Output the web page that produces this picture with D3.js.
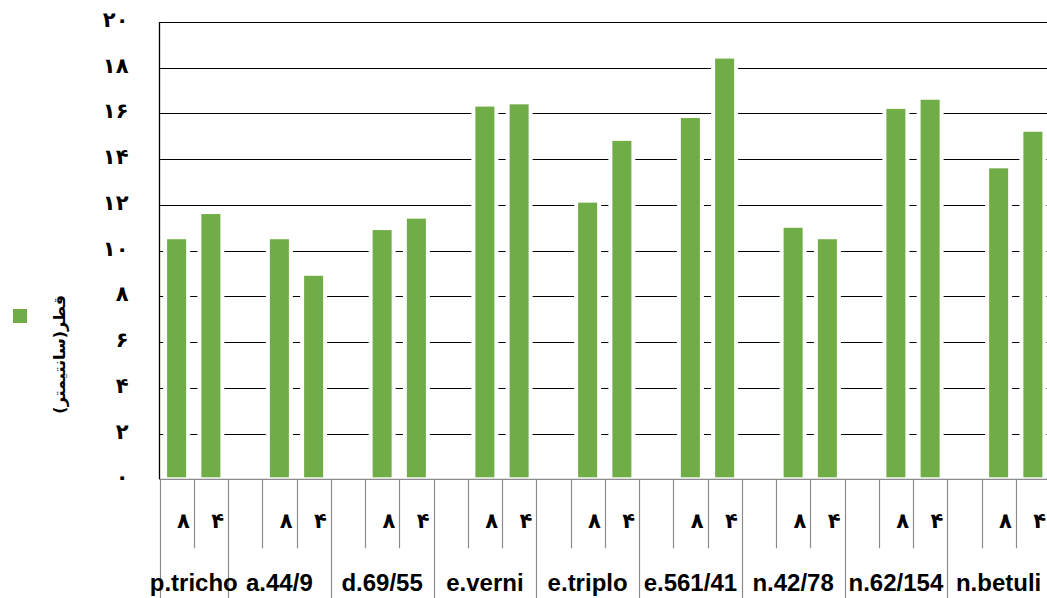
<!DOCTYPE html>
<html>
<head>
<meta charset="utf-8">
<script src="https://cdn.jsdelivr.net/npm/d3@7"></script>
<style>
  body { margin: 0; background: #fff; }
  svg { display: block; }
</style>
</head>
<body>
<div id="chart"></div>
<script>
/* Excel-style column chart, two-level category axis */

const groups = ["p.tricho", "a.44/9", "d.69/55", "e.verni", "e.triplo", "e.561/41", "n.42/78", "n.62/154", "n.betuli"];
const ages = ["۸", "۴"];
const values8 = [10.5, 10.5, 10.9, 16.3, 12.1, 15.8, 11.0, 16.2, 13.6];
const values4 = [11.6, 8.9, 11.4, 16.4, 14.8, 18.4, 10.5, 16.6, 15.2];
const yTicks = [0, 2, 4, 6, 8, 10, 12, 14, 16, 18, 20];
const yTickLabels = ["۰", "۲", "۴", "۶", "۸", "۱۰", "۱۲", "۱۴", "۱۶", "۱۸", "۲۰"];
const legendLabel = "قطر(سانتیمتر)";

let width = 1047,
    height = 598,
    margin = ({ top: 22, right: -3, bottom: 118.7, left: 159.5 });

const green = "#70ad47",
    grey = "#8c8c8c";

const svg = d3.select("#chart")
    .append("svg")
    .attr("width", width)
    .attr("height", height)
    .attr("viewBox", [0, 0, width, height]);

// slots: every group after the first starts with an empty slot
let slots = [];
groups.forEach((g, i) => {
    if (i > 0) slots.push({ group: g, key: g + "|", age: null, value: null, first: true });
    slots.push({ group: g, key: g + "|8", age: ages[0], value: values8[i], first: i == 0 });
    slots.push({ group: g, key: g + "|4", age: ages[1], value: values4[i], first: false });
});

let x = d3.scaleBand()
    .domain(slots.map(d => d.key))
    .range([margin.left, width - margin.right])
    .padding(0);

let y = d3.scaleLinear()
    .domain([0, 20])
    .range([height - margin.bottom, margin.top]);

const bw = x.bandwidth();
const y0 = y(0);

// gridlines
svg.append("g")
    .selectAll("line")
    .data(yTicks.slice(1))
    .join("line")
    .attr("x1", margin.left)
    .attr("x2", width - margin.right)
    .attr("y1", d => Math.round(y(d)) + 0.5)
    .attr("y2", d => Math.round(y(d)) + 0.5)
    .attr("stroke", "#000")
    .attr("stroke-width", 1.1);

// bars (white outline breaks the gridlines)
let barW = bw * 0.555;
svg.append("g")
    .selectAll("rect")
    .data(slots.filter(d => d.value != null))
    .join("rect")
    .attr("x", d => x(d.key) + (bw - barW) / 2 - 2)
    .attr("width", barW + 4)
    .attr("y", d => y(d.value) - 2)
    .attr("height", d => y0 - y(d.value) + 2)
    .attr("fill", green)
    .attr("stroke", "#fff")
    .attr("stroke-width", 4);

// category axis lines
svg.append("line")
    .attr("x1", margin.left).attr("x2", width - margin.right)
    .attr("y1", y0).attr("y2", y0)
    .attr("stroke", grey).attr("stroke-width", 1.2);

let bounds = slots.map(d => ({ x: x(d.key), long: d.first }));
bounds.push({ x: x(slots[slots.length - 1].key) + bw, long: true });

svg.append("g")
    .selectAll("line")
    .data(bounds)
    .join("line")
    .attr("x1", d => Math.round(d.x) + 0.5)
    .attr("x2", d => Math.round(d.x) + 0.5)
    .attr("y1", y0)
    .attr("y2", d => d.long ? height : y0 + 69)
    .attr("stroke", grey)
    .attr("stroke-width", 1.2);

// value axis
svg.append("line")
    .attr("x1", margin.left).attr("x2", margin.left)
    .attr("y1", y(20)).attr("y2", y0)
    .attr("stroke", "#000").attr("stroke-width", 1.3);

svg.append("g")
    .selectAll("text")
    .data(yTicks)
    .join("text")
    .attr("direction", "ltr")
    .attr("text-anchor", "end")
    .attr("x", margin.left - 31)
    .attr("y", d => y(d) + 5)
    .style("font-family", "DejaVu Sans")
    .style("font-weight", "bold")
    .style("font-size", "21px")
    .text((d, i) => yTickLabels[i]);

// inner labels
svg.append("g")
    .selectAll("text")
    .data(slots.filter(d => d.age != null))
    .join("text")
    .attr("direction", "ltr")
    .attr("text-anchor", "end")
    .attr("x", d => x(d.key) + bw - 4)
    .attr("y", y0 + 49)
    .style("font-family", "DejaVu Sans")
    .style("font-weight", "bold")
    .style("font-size", "21px")
    .text(d => d.age);

// group labels
svg.append("g")
    .selectAll("text")
    .data(groups)
    .join("text")
    .attr("text-anchor", "middle")
    .attr("x", g => {
        let s = slots.filter(d => d.group == g);
        return (x(s[0].key) + x(s[s.length - 1].key) + bw) / 2;
    })
    .attr("y", y0 + 112)
    .style("font-family", "Liberation Sans")
    .style("font-weight", "bold")
    .style("font-size", "24px")
    .text(g => g);

// legend
svg.append("rect")
    .attr("x", 13).attr("y", 309)
    .attr("width", 14).attr("height", 14)
    .attr("fill", green);

svg.append("text")
    .attr("transform", "translate(65,295) rotate(-90)")
    .attr("direction", "rtl")
    .attr("text-anchor", "start")
    .style("font-family", "DejaVu Sans")
    .style("font-weight", "bold")
    .style("font-size", "16px")
    .text(legendLabel);
</script>
</body>
</html>
